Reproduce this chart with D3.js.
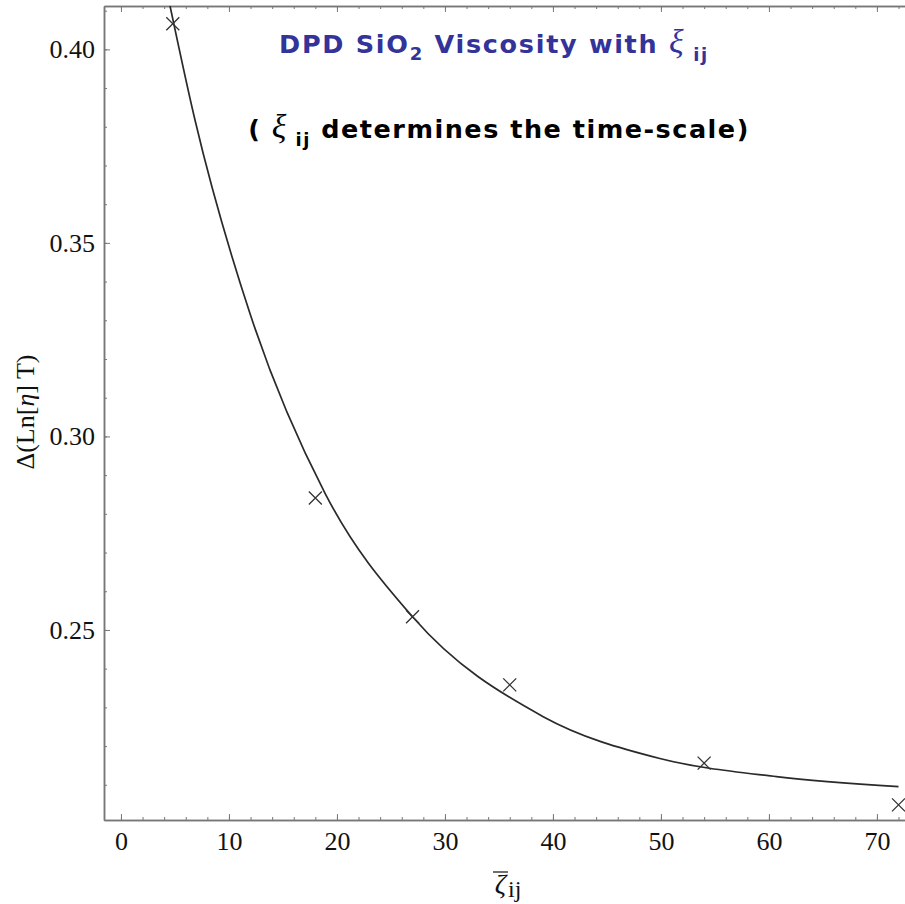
<!DOCTYPE html>
<html>
<head>
<meta charset="utf-8">
<script src="https://cdn.jsdelivr.net/npm/d3@7"></script>
<style>
  html, body { margin: 0; padding: 0; background: #fff; }
  svg { display: block; }
</style>
</head>
<body>
<svg id="chart" width="905" height="904"></svg>
<script>
// ---- data ----
const pointX = [4.8, 18, 27, 36, 54, 72];
const pointY = [0.4066, 0.2841, 0.2534, 0.2358, 0.2156, 0.2048];

const curveX = [4.5, 6.85, 11.94, 18.9, 27.0, 39.1, 49.9, 60.7, 72.0];
const curveY = [0.4118, 0.3818, 0.3318, 0.2853, 0.2534, 0.2276, 0.2168, 0.2121, 0.2095];

const xTickValues = [0, 10, 20, 30, 40, 50, 60, 70];
const yTickValues = [0.25, 0.30, 0.35, 0.40];
const xDomain = [-1.57, 72.6];
const yDomain = [0.2009, 0.4112];

// ---- layout ----
const mLeft = 104, mRight = 905, mTop = 6, mBottom = 820;
const axisColor = "#777";

const svg = d3.select("#chart");
const x = d3.scaleLinear().domain(xDomain).range([mLeft, mRight]);
const y = d3.scaleLinear().domain(yDomain).range([mBottom, mTop]);

const xMinor = d3.range(0, 73, 2);
const yMinor = d3.range(21, 42).map(d => d / 100);

const serif = "'Liberation Serif', 'Times New Roman', serif";

function styleAxis(g) {
  g.selectAll("path.domain").attr("stroke", axisColor).attr("stroke-width", 1.5);
  g.selectAll(".tick line").attr("stroke", axisColor).attr("stroke-width", 1);
  g.selectAll("text").attr("fill", "#111").attr("font-family", serif).attr("font-size", 26);
}

// clip
svg.append("defs").append("clipPath").attr("id", "plotclip")
  .append("rect").attr("x", mLeft).attr("y", mTop).attr("width", mRight - mLeft).attr("height", mBottom - mTop);

// bottom axis: minor + major
svg.append("g").attr("transform", `translate(0,${mBottom})`)
  .call(d3.axisBottom(x).tickValues(xMinor).tickSize(-3).tickSizeOuter(0).tickFormat(""))
  .call(styleAxis);
svg.append("g").attr("transform", `translate(0,${mBottom})`)
  .call(d3.axisBottom(x).tickValues(xTickValues).tickSize(-6).tickSizeOuter(0).tickPadding(12).tickFormat(d3.format("d")))
  .call(styleAxis);
// top axis (ticks only)
svg.append("g").attr("transform", `translate(0,${mTop})`)
  .call(d3.axisTop(x).tickValues(xMinor).tickSize(-3).tickSizeOuter(0).tickFormat(""))
  .call(styleAxis);
svg.append("g").attr("transform", `translate(0,${mTop})`)
  .call(d3.axisTop(x).tickValues(xTickValues).tickSize(-6).tickSizeOuter(0).tickFormat(""))
  .call(styleAxis);
// left axis
svg.append("g").attr("transform", `translate(${mLeft},0)`)
  .call(d3.axisLeft(y).tickValues(yMinor).tickSize(-3).tickSizeOuter(0).tickFormat(""))
  .call(styleAxis);
svg.append("g").attr("transform", `translate(${mLeft},0)`)
  .call(d3.axisLeft(y).tickValues(yTickValues).tickSize(-6).tickSizeOuter(0).tickPadding(9).tickFormat(d3.format(".2f")))
  .call(styleAxis);

// fitted curve
const curveData = curveX.map((d, i) => [d, curveY[i]]);
svg.append("path")
  .datum(curveData)
  .attr("clip-path", "url(#plotclip)")
  .attr("fill", "none")
  .attr("stroke", "#2a2a2a")
  .attr("stroke-width", 1.7)
  .attr("d", d3.line().x(d => x(d[0])).y(d => y(d[1])).curve(d3.curveMonotoneX));

// x markers
const s = 6.5;
svg.append("g").selectAll("path.mark")
  .data(pointX.map((d, i) => [d, pointY[i]]))
  .join("path")
  .attr("class", "mark")
  .attr("fill", "none")
  .attr("stroke", "#333")
  .attr("stroke-width", 1.3)
  .attr("d", d => {
    const cx = x(d[0]), cy = y(d[1]);
    return `M${cx - s},${cy - s}L${cx + s},${cy + s}M${cx - s},${cy + s}L${cx + s},${cy - s}`;
  });

// axis labels
const xl = svg.append("text")
  .attr("x", 508).attr("y", 893)
  .attr("text-anchor", "middle")
  .attr("font-family", serif).attr("font-size", 28).attr("fill", "#111");
xl.append("tspan").attr("font-style", "italic").text("ζ");
xl.append("tspan").attr("font-size", 24).attr("dy", 4).attr("dx", 2).text("ij");
// overbar of the zeta
svg.append("line")
  .attr("x1", 493).attr("x2", 508).attr("y1", 872).attr("y2", 872)
  .attr("stroke", "#222").attr("stroke-width", 1.3);

const yl = svg.append("text")
  .attr("transform", "translate(34,412) rotate(-90)")
  .attr("text-anchor", "middle")
  .attr("font-family", serif).attr("font-size", 26).attr("fill", "#111");
yl.append("tspan").text("Δ(Ln[");
yl.append("tspan").attr("font-style", "italic").text("η");
yl.append("tspan").text("] T)");

// titles
const sans = "'DejaVu Sans', Verdana, sans-serif";
const t1 = svg.append("text")
  .attr("x", 494).attr("y", 53)
  .attr("text-anchor", "middle")
  .attr("font-family", sans).attr("font-weight", "bold").attr("font-size", 25.5)
  .attr("letter-spacing", 1.7)
  .attr("fill", "#333399");
t1.append("tspan").text("DPD SiO");
t1.append("tspan").attr("font-size", 18).attr("dy", 7).text("2");
t1.append("tspan").attr("dy", -7).text(" Viscosity with ");
t1.append("tspan").attr("font-family", serif).attr("font-style", "italic").attr("font-weight", "normal").attr("font-size", 34).text("ξ");
t1.append("tspan").attr("font-size", 18).attr("dy", 8).text(" ij");

const t2 = svg.append("text")
  .attr("x", 499).attr("y", 138)
  .attr("text-anchor", "middle")
  .attr("font-family", sans).attr("font-weight", "bold").attr("font-size", 25.5)
  .attr("letter-spacing", 1.5)
  .attr("fill", "#000");
t2.append("tspan").text("( ");
t2.append("tspan").attr("font-family", serif).attr("font-style", "italic").attr("font-weight", "normal").attr("font-size", 34).text("ξ");
t2.append("tspan").attr("font-size", 18).attr("dy", 8).text(" ij");
t2.append("tspan").attr("dy", -8).text(" determines the time-scale)");
</script>
</body>
</html>
